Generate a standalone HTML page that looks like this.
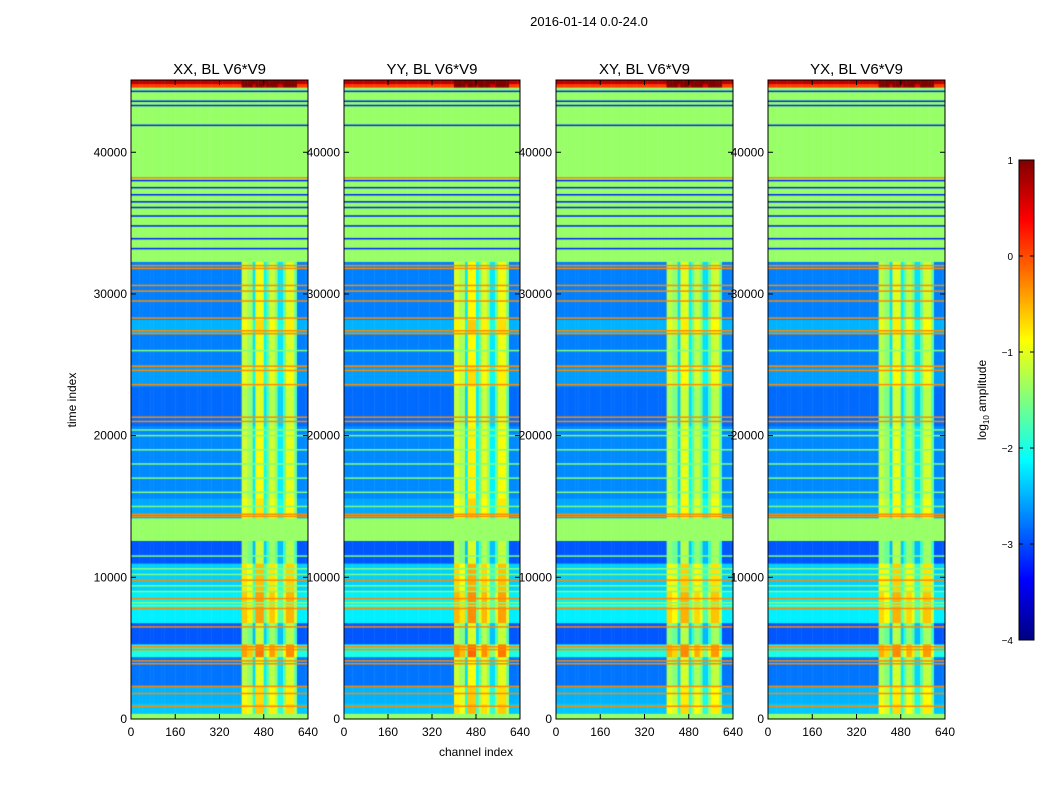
<!DOCTYPE html>
<html><head><meta charset="utf-8"><style>
body{margin:0;background:#fff;width:1050px;height:800px;overflow:hidden;font-family:"Liberation Sans",sans-serif}
#root{position:relative;width:1050px;height:800px}
canvas{position:absolute}
svg{position:absolute;left:0;top:0}
</style></head><body><div id="root">
<canvas id="c0" style="left:131px;top:80px" width="177" height="639"></canvas>
<canvas id="c1" style="left:344px;top:80px" width="176" height="639"></canvas>
<canvas id="c2" style="left:556px;top:80px" width="177" height="639"></canvas>
<canvas id="c3" style="left:768px;top:80px" width="177" height="639"></canvas>
<canvas id="cb" style="left:1019px;top:160px" width="15" height="480"></canvas>
<svg id="ov" width="1050" height="800"></svg>
</div>
<script>
const panelTitles=["XX, BL V6*V9","YY, BL V6*V9","XY, BL V6*V9","YX, BL V6*V9"];
const yTicks=[0,10000,20000,30000,40000];
const xTicks=[0,160,320,480,640];
const cbTicks=[1,0,-1,-2,-3,-4];
const cbLabels=["1","0","\u22121","\u22122","\u22123","\u22124"];
// row bands: [t0, t1, base log amplitude, flagged]
const rowBands=[[0,400,-1.38,1],[400,1100,-2.4,0],[1100,2300,-2.5,0],[2300,4400,-2.8,0],[4400,5300,-2.0,0],[5300,6800,-2.95,0],[6800,9000,-2.2,0],[9000,11000,-2.35,0],[11000,12600,-2.95,0],[12600,14200,-1.38,1],[14200,15600,-2.55,0],[15600,20700,-2.7,0],[20700,23500,-2.85,0],[23500,25000,-2.6,0],[25000,27200,-2.75,0],[27200,28200,-2.5,0],[28200,32300,-2.75,0],[32300,44600,-1.38,1],[44600,44850,0.1,0],[44850,45100,0.7,0]];
const orangeLines=[900,1800,2300,3900,4100,4900,5100,6500,7800,8500,9800,14300,14450,21000,21300,23600,24600,24900,27200,27400,28300,29500,30200,30600,31800,32000,38200];
const orangeVal=-0.3;
const blueLines=[33200,33900,34800,35500,36100,36500,37000,37500,38000,41900,43300,43600,44300];
const blueVal=-3.2;
const greenLines=[8000,8200,9000,9400,10200,10600,11500,15000,16000,17000,18000,19000,20000,20400,26000];
const greenVal=-1.5;
// channel-chunk boosts (10 channels each, 64 chunks)
const colBoost=[0,0,0,0,0,0,0,0,0,0,0,0,0,0,0,0,0,0,0,0,0,0,0,0,0,0,0,0,0,0,0,0,0,0,0,0,0,0,0,0,
1.6,1.6,1.4,1.4,0.5,1.8,1.8,1.8,0.6,1.1,1.6,1.6,1.3,0.5,0.5,1.1,1.7,1.7,1.7,1.1,0,0,0,0];
const panelScale=[1.0,1.05,0.95,0.95];

const TMAX=45100, VMIN=-4, VMAX=1;
function cl(x){return Math.max(0,Math.min(1,x));}
function jet(v){const x=cl((v-VMIN)/(VMAX-VMIN));
 return `rgb(${Math.round(255*cl(1.5-Math.abs(4*x-3)))},${Math.round(255*cl(1.5-Math.abs(4*x-2)))},${Math.round(255*cl(1.5-Math.abs(4*x-1)))})`;}
function drawPanel(id,ps){
 const c=document.getElementById(id),g=c.getContext('2d'),W=c.width,H=c.height;
 const Y=t=>H-t/TMAX*H, X=ch=>ch/640*W;
 rowBands.forEach(b=>{
  const y0=Y(b[1]),y1=Y(b[0]);
  colBoost.forEach((cb,i)=>{
   const v=b[3]?b[2]:b[2]+cb*ps;
   g.fillStyle=jet(v);
   g.fillRect(X(i*10),y0,X(i*10+10)-X(i*10)+0.5,y1-y0+0.5);
  });
 });
 function line(t,val){
  const y=Y(t);
  g.fillStyle=jet(val);
  g.fillRect(0,y-0.75,W,1.5);
 }
 greenLines.forEach(t=>line(t,greenVal));
 blueLines.forEach(t=>line(t,blueVal));
 orangeLines.forEach(t=>line(t,orangeVal));
}
["c0","c1","c2","c3"].forEach((id,i)=>drawPanel(id,panelScale[i]));
(function(){const c=document.getElementById('cb'),g=c.getContext('2d');
 for(let y=0;y<480;y++){g.fillStyle=jet(VMAX-(y+0.5)/480*(VMAX-VMIN));g.fillRect(0,y,15,1);}})();

const ov=document.getElementById('ov');const NS="http://www.w3.org/2000/svg";
function el(tag,attrs,txt){const e=document.createElementNS(NS,tag);for(const k in attrs)e.setAttribute(k,attrs[k]);if(txt!==undefined)e.textContent=txt;ov.appendChild(e);return e;}
const panels=[[131,308],[344,520],[556,733],[768,945]];
const topY=80,botY=719;
panels.forEach((p,i)=>{
 const [l,r]=p,w=r-l,Y=t=>botY-t/TMAX*(botY-topY),X=ch=>l+ch/640*w;
 let f=el('rect',{x:l,y:topY,width:w,height:botY-topY,fill:'none',stroke:'#000','stroke-width':1});
 
 
 let tt=el('text',{x:(l+r)/2,y:74,'text-anchor':'middle','font-size':15},panelTitles[i]);
 
 
 yTicks.forEach(t=>{const y=Y(t);
  el('line',{x1:l,x2:l+5,y1:y,y2:y,stroke:'#000'});el('line',{x1:r,x2:r-5,y1:y,y2:y,stroke:'#000'});
  let tx=el('text',{x:l-4,y:y+4,'text-anchor':'end','font-size':12},String(t));
  
  
 });
 xTicks.forEach(t=>{const x=X(t);
  el('line',{x1:x,x2:x,y1:botY,y2:botY-5,stroke:'#000'});el('line',{x1:x,x2:x,y1:topY,y2:topY+5,stroke:'#000'});
  let tx=el('text',{x:x,y:736,'text-anchor':'middle','font-size':12},String(t));
  
  
 });
});
let st=el('text',{x:589,y:26,'text-anchor':'middle','font-size':13},'2016-01-14 0.0-24.0');


let yl=el('text',{x:0,y:0,'text-anchor':'middle','font-size':12,transform:'translate(76,400) rotate(-90)'},'time index');


let xl=el('text',{x:476,y:756,'text-anchor':'middle','font-size':12},'channel index');


let cf=el('rect',{x:1019,y:160,width:15,height:480,fill:'none',stroke:'#000'});


cbTicks.forEach((v,i)=>{const y=160+(VMAX-v)/(VMAX-VMIN)*480;
 el('line',{x1:1019,x2:1023,y1:y,y2:y,stroke:'#000'});el('line',{x1:1034,x2:1030,y1:y,y2:y,stroke:'#000'});
 let tx=el('text',{x:1013,y:y+4,'text-anchor':'end','font-size':10},cbLabels[i]);
 
 
});
let cl2=el('text',{x:0,y:0,'text-anchor':'middle','font-size':12,transform:'translate(986,400) rotate(-90)'});


cl2.innerHTML='log<tspan font-size="8" dy="3">10</tspan><tspan dy="-3"> amplitude</tspan>';
</script></body></html>
